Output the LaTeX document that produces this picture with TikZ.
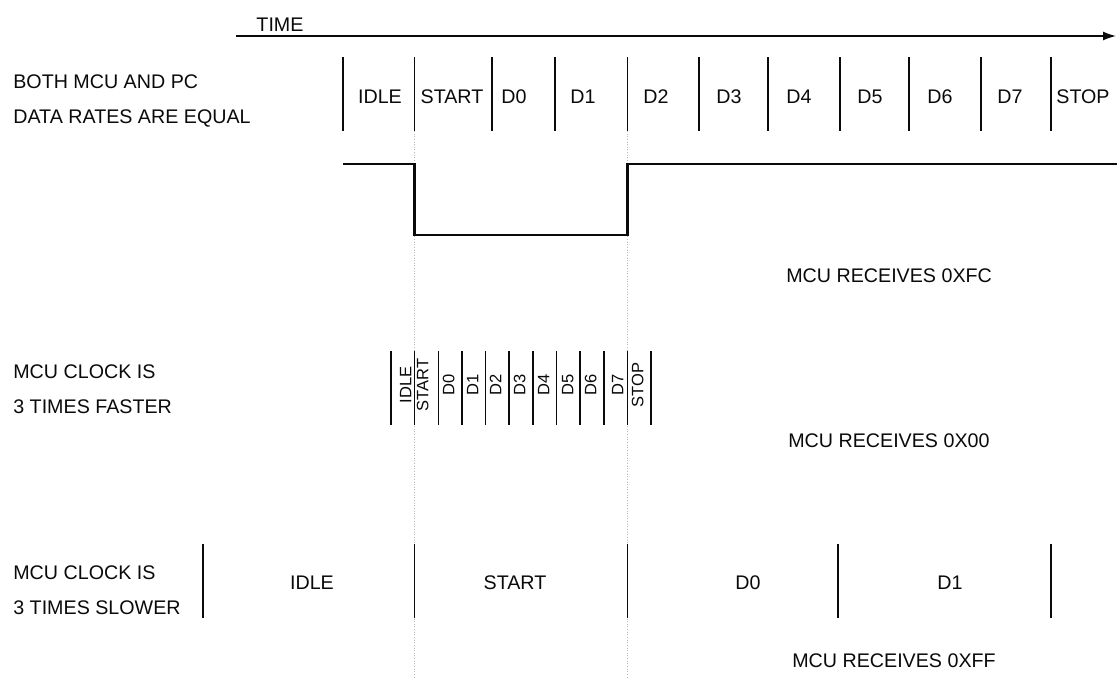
\documentclass[tikz,border=0pt]{standalone}
\usepackage{fontspec}
\setmainfont{Liberation Sans}
\usepackage{tikz}
\usetikzlibrary{arrows.meta, positioning}
\definecolor{mydark}{RGB}{10,10,10}
\definecolor{myguide}{RGB}{185,185,185}
\tikzset{
  lbl/.style={anchor=base, inner sep=0pt, font=\fontsize{11.2}{13}\selectfont, color=mydark},
  sidelbl/.style={anchor=base west, inner sep=0pt, font=\fontsize{11.2}{13}\selectfont, color=mydark},
  bitlbl/.style={rotate=90, inner sep=0pt, text height=0.72em, text depth=0pt,
    font=\fontsize{9.4}{10}\selectfont, color=mydark},
  tick/.style={line width=0.85pt, color=mydark},
  wave/.style={line width=1.4pt, color=mydark, line join=miter},
  guide/.style={densely dotted, line width=0.5pt, color=myguide},
  timearrow/.style={-{Latex[length=2.6mm, width=1.8mm]}, line width=0.8pt, color=mydark}
}
\begin{document}
\begin{tikzpicture}[x=0.02cm, y=-0.02cm]
  \useasboundingbox (0,0) rectangle (1117,677);

  % Time axis
  \draw[timearrow] (236,36) -- (1116,36);
  \node[lbl] (time) at (280,31) {TIME};

  % Guide lines at start and end of START..D1
  \draw[guide] (414.6,131) -- (414.6,677);
  \draw[guide] (627.4,131) -- (627.4,677);

  % Equal data rates
  \node[sidelbl] (eqa) at (13,88) {BOTH MCU AND PC};
  \node[sidelbl] (eqb) at (13,123) {DATA RATES ARE EQUAL};
  \foreach \x in {343,414.6,492,555,627.4,699,768,840,909,981,1051}
    \draw[tick] (\x,57) -- (\x,131);
  \foreach \x/\t in {380/IDLE, 452/START, 514/D0, 583/D1, 656/D2, 729/D3,
                     799/D4, 870/D5, 940/D6, 1010/D7, 1083/STOP}
    \node[lbl] (eq\t) at (\x,103) {\t};

  % Line level
  \draw[wave] (343,164) -- (414.6,164) -- (414.6,235) -- (627.4,235)
    -- (627.4,164) -- (1117,164);
  \node[sidelbl] (rxfc) at (786,282) {MCU RECEIVES 0XFC};

  % Three times faster
  \node[sidelbl] (fsa) at (13,378) {MCU CLOCK IS};
  \node[sidelbl] (fsb) at (13,413) {3 TIMES FASTER};
  \foreach \k in {0,...,11}
    \draw[tick] (391+23.64*\k,351) -- (391+23.64*\k,425);
  \foreach \x/\t in {405/IDLE, 422/START, 448/D0, 472/D1, 495/D2, 519/D3,
                     543/D4, 567/D5, 590/D6, 617/D7, 637/STOP}
    \node[bitlbl] (fs\t) at (\x,385) {\t};
  \node[sidelbl] (rx00) at (788,447) {MCU RECEIVES 0X00};

  % Three times slower
  \node[sidelbl] (sla) at (13,579) {MCU CLOCK IS};
  \node[sidelbl] (slb) at (13,614) {3 TIMES SLOWER};
  \foreach \x in {203,414.6,627.4,838,1051}
    \draw[tick] (\x,544) -- (\x,618);
  \foreach \x/\t in {312/IDLE, 515/START, 748/D0, 950/D1}
    \node[lbl] (sl\t) at (\x,589) {\t};
  \node[sidelbl] (rxff) at (792,667) {MCU RECEIVES 0XFF};

\end{tikzpicture}
\end{document}
